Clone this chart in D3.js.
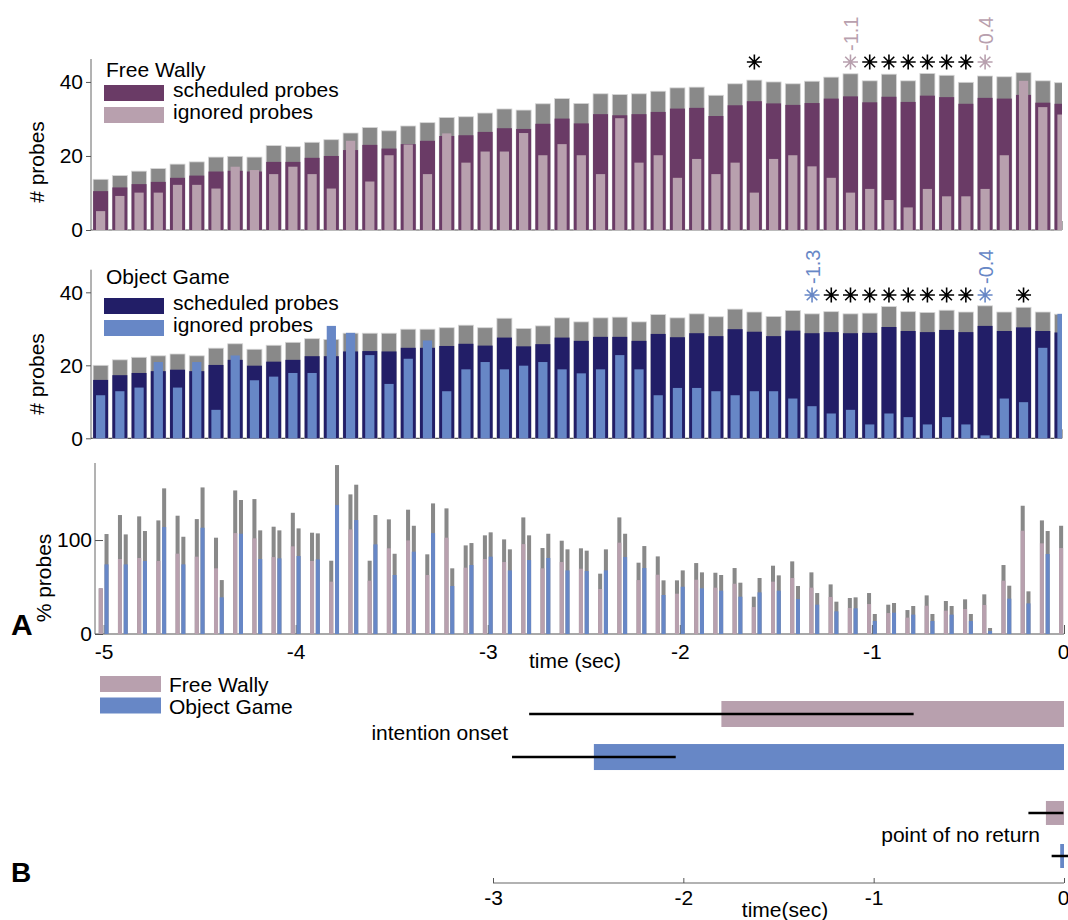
<!DOCTYPE html>
<html>
<head>
<meta charset="utf-8">
<script src="https://cdn.jsdelivr.net/npm/d3@7"></script>
<style>
  body { margin: 0; background: #fff; }
  svg { display: block; }
  text { font-family: "Liberation Sans", Arial, Helvetica, sans-serif; fill: #000; }
</style>
</head>
<body>
<svg id="fig" width="1068" height="920"></svg>
<script>
// ---- time bins (100 ms, aligned to movement at 0) ----
const binTimes = d3.range(51).map(i => Math.round((-5 + 0.1 * i) * 10) / 10);

// ---- Free Wally: probe counts per bin ----
const fwTotal = [13.7, 14.7, 15.9, 16.6, 17.8, 18.4, 19.7, 19.9, 19.7, 22.8, 22.5, 23.7, 24.4, 26.2, 27.7, 26.8, 28.1, 29.0, 30.4, 30.6,
  31.6, 32.7, 32.4, 34.1, 35.5, 34.2, 36.8, 36.6, 36.8, 37.5, 38.4, 38.6, 36.4, 39.5, 40.5, 40.0, 39.5, 40.2, 41.3, 42.2,
  40.3, 42.1, 40.3, 42.3, 41.8, 39.9, 41.6, 41.4, 42.5, 40.3, 39.8];
const fwScheduled = [10.5, 11.5, 12.4, 13.0, 14.1, 14.7, 15.8, 16.0, 15.8, 18.4, 18.4, 19.5, 20.0, 21.6, 23.0, 22.0, 23.2, 24.1, 25.4, 25.6,
  26.5, 27.5, 27.3, 28.7, 30.1, 28.8, 31.3, 31.0, 31.3, 31.9, 32.8, 33.0, 30.8, 33.7, 34.8, 34.2, 33.8, 34.3, 35.5, 36.1,
  34.5, 36.0, 34.6, 36.3, 35.9, 34.1, 35.7, 35.5, 36.5, 34.4, 34.1];
const fwIgnored = [5.1, 9.2, 10.1, 10.1, 12.2, 12.2, 11.2, 17.1, 16.2, 15.1, 17.1, 15.1, 11.2, 24.1, 13.1, 20.2, 23.1, 15.1, 26.1, 18.2,
  21.2, 21.2, 26.2, 20.2, 23.2, 20.2, 15.1, 30.2, 18.2, 20.2, 14.1, 19.2, 15.1, 18.2, 10.1, 19.2, 20.2, 17.2, 14.1, 10.1,
  11.1, 8.1, 6.1, 11.1, 9.1, 9.1, 11.1, 20.2, 40.3, 33.2, 31.2];

// ---- Object Game: probe counts per bin ----
const ogTotal = [20.0, 21.5, 22.2, 22.6, 23.1, 22.6, 24.7, 25.9, 24.4, 25.5, 26.3, 27.3, 27.1, 28.8, 28.8, 28.8, 29.9, 29.9, 30.3, 31.0,
  30.3, 32.9, 30.1, 30.8, 33.0, 31.9, 33.0, 33.2, 31.9, 33.9, 33.0, 34.1, 33.3, 35.4, 34.6, 33.4, 35.0, 34.1, 34.7, 34.1,
  34.3, 36.1, 34.7, 34.5, 35.1, 34.6, 36.3, 34.6, 35.9, 34.6, 34.0];
const ogScheduled = [16.0, 17.3, 17.9, 18.4, 18.8, 18.4, 20.1, 21.5, 19.9, 21.0, 21.5, 22.5, 22.5, 23.8, 23.9, 23.8, 24.8, 24.8, 25.3, 25.9,
  25.4, 27.6, 25.2, 25.8, 27.6, 26.7, 27.8, 27.8, 26.7, 28.6, 27.7, 28.8, 28.0, 29.9, 29.2, 28.0, 29.5, 28.8, 29.1, 28.8,
  28.9, 30.5, 29.4, 29.1, 29.7, 29.1, 30.8, 29.4, 30.4, 29.4, 29.0];
const ogIgnored = [11.8, 12.9, 13.9, 20.9, 13.9, 20.9, 7.8, 22.7, 15.9, 16.9, 17.9, 17.9, 30.8, 28.9, 22.8, 14.9, 21.8, 26.8, 12.9, 18.9,
  20.9, 18.9, 19.9, 20.9, 18.9, 17.8, 18.9, 22.8, 18.9, 11.8, 13.8, 13.8, 12.9, 11.8, 12.9, 12.9, 10.9, 8.8, 6.8, 7.8,
  3.8, 6.8, 5.8, 3.8, 5.8, 3.8, 0.8, 10.9, 9.9, 24.8, 34.1];

// ---- ignored / scheduled (%) with upper band ----
const fwPct = [48.6, 79.8, 80.9, 77.7, 85.5, 82.3, 69.9, 107.4, 101.8, 81.9, 93.3, 77.7, 55.7, 111.3, 56.7, 91.2, 99.6, 62.8, 102.5, 70.6,
  79.8, 76.6, 95.7, 69.9, 76.6, 69.5, 47.9, 97.2, 57.4, 63.1, 42.9, 57.8, 49.3, 53.5, 28.7, 55.7, 59.6, 49.3, 39.4, 27.7,
  31.9, 22.3, 17.4, 30.1, 24.8, 26.6, 30.9, 56.7, 109.9, 96.5, 91.5];
const fwPctHigh = [48.6, 126.6, 125.2, 120.9, 125.9, 122.3, 102.5, 152.8, 143.6, 114.2, 129.0, 107.8, 78.0, 148.6, 78.0, 122.0, 132.3, 84.8, 133.7, 94.3,
  105.0, 100.7, 124.1, 91.5, 99.3, 91.2, 64.2, 124.1, 75.9, 82.6, 57.1, 75.5, 65.2, 70.2, 39.7, 72.7, 77.3, 65.6, 52.8, 38.3,
  43.6, 31.2, 25.5, 41.1, 35.1, 36.9, 42.2, 73.4, 136.5, 120.9, 115.2];
const ogPct = [74.1, 74.1, 77.7, 113.8, 74.1, 113.1, 39.0, 106.7, 79.8, 80.5, 83.0, 79.4, 137.2, 121.3, 95.4, 62.8, 87.6, 107.4, 51.1, 73.4,
  82.3, 67.7, 78.7, 80.9, 67.7, 67.0, 67.7, 81.9, 70.2, 41.5, 50.3, 48.6, 46.1, 39.7, 44.3, 46.1, 37.2, 31.2, 24.1, 27.3,
  13.8, 22.7, 20.6, 13.8, 20.6, 13.8, 3.2, 37.6, 32.6, 85.1, null];
const ogPctHigh = [106.4, 106.0, 109.6, 155.0, 103.5, 156.0, 57.4, 142.6, 110.3, 110.3, 112.4, 107.1, 179.8, 158.9, 126.6, 85.4, 115.2, 139.0, 69.9, 96.8,
  108.2, 90.1, 105.0, 106.7, 90.1, 88.7, 90.1, 106.7, 93.6, 57.1, 67.7, 65.6, 62.8, 54.6, 59.6, 62.4, 51.1, 43.6, 34.4, 39.0,
  21.3, 33.0, 29.8, 21.3, 29.8, 21.3, 6.4, 51.4, 45.4, 109.6, null];

// ---- significance markers ----
const fwSigTimes = [-1.6, -1.0, -0.9, -0.8, -0.7, -0.6, -0.5];
const fwEdgeTimes = [-1.1, -0.4];
const fwEdgeLabels = ["-1.1", "-0.4"];
const ogSigTimes = [-1.2, -1.1, -1.0, -0.9, -0.8, -0.7, -0.6, -0.5, -0.2];
const ogEdgeTimes = [-1.3, -0.4];
const ogEdgeLabels = ["-1.3", "-0.4"];

// ---- panel B: onset estimates (mean, error) ----
const bConditions = ["Free Wally", "Object Game"];
const onsetMean = [-1.80, -2.47];
const onsetErr = [1.01, 0.43];
const ponrMean = [-0.095, -0.02];
const ponrErr = [0.092, 0.045];

const countTicks = [0, 20, 40];
const pctTicks = [0, 100];
const timeTicks = [-5, -4, -3, -2, -1, 0];
const bTicks = [-3, -2, -1, 0];

// ---- colours ----
const COL = {
  gray: "#898989",
  fwDark: "#6a3b66", fwLight: "#b8a0ae",
  ogDark: "#221e67", ogLight: "#6787c6",
  axis: "#666"
};
const FS = 21;
const plainNum = d => String(d);   // ASCII hyphen for negatives

const svg = d3.select("#fig");
const defs = svg.append("defs");

function styleAxis(g) {
  g.selectAll(".domain").remove();
  g.selectAll(".tick line").attr("stroke", "#555").attr("stroke-width", 1);
  g.selectAll(".tick text").attr("font-size", FS).attr("fill", "#000")
    .attr("font-family", '"Liberation Sans", Arial, sans-serif');
}

// keep the "0" label at the right edge inside the canvas
function pullZeroLabel(g) {
  g.selectAll(".tick").filter(d => d === 0).select("text")
    .attr("text-anchor", "end").attr("dx", 5);
}

function asterisk(g, cx, cy, r, color) {
  const d = [0, 45, 90, 135].map(a => {
    const rad = a * Math.PI / 180, dx = r * Math.cos(rad), dy = r * Math.sin(rad);
    return `M${cx - dx},${cy - dy}L${cx + dx},${cy + dy}`;
  }).join("");
  g.append("path").attr("d", d).attr("stroke", color).attr("stroke-width", 1.6).attr("fill", "none");
}

// ---- count panels (top two) ----
const xCount = d3.scaleLinear().domain([-5.05, 0]).range([91, 1062]);

function countPanel(cfg) {
  const y = d3.scaleLinear().domain([0, 46.2]).range([cfg.y0, cfg.yTop]);
  const g = svg.append("g");
  const clipId = "clip-" + cfg.id;
  defs.append("clipPath").attr("id", clipId).append("rect")
    .attr("x", xCount.range()[0]).attr("y", 0)
    .attr("width", xCount.range()[1] - xCount.range()[0]).attr("height", cfg.y0 + 1);

  // axis lines
  g.append("line").attr("x1", xCount.range()[0]).attr("x2", xCount.range()[0])
    .attr("y1", y(0)).attr("y2", y(46.2)).attr("stroke", COL.axis).attr("stroke-width", 1);
  g.append("line").attr("x1", xCount.range()[0]).attr("x2", xCount.range()[1])
    .attr("y1", y(0)).attr("y2", y(0)).attr("stroke", "#555").attr("stroke-width", 1.2);
  // inward time ticks (behind the bars)
  g.append("g").selectAll("line").data(timeTicks).join("line")
    .attr("x1", d => xCount(d)).attr("x2", d => xCount(d))
    .attr("y1", y(0)).attr("y2", y(0) - 9).attr("stroke", "#555");

  const ya = g.append("g").attr("transform", `translate(${xCount.range()[0]},0)`)
    .call(d3.axisLeft(y).tickValues(countTicks).tickSize(5).tickPadding(3));
  styleAxis(ya);

  const bars = g.append("g").attr("clip-path", `url(#${clipId})`);
  const wide = xCount(0.039) - xCount(0);
  const thin = xCount(0.024) - xCount(0);
  const idx = d3.range(binTimes.length);
  bars.selectAll(".tot").data(idx).join("rect")
    .attr("x", i => xCount(binTimes[i]) - wide).attr("width", 2 * wide)
    .attr("y", i => y(cfg.total[i])).attr("height", i => y(0) - y(cfg.total[i]))
    .attr("fill", COL.gray).attr("stroke", "#d6d6d6").attr("stroke-width", 0.8);
  bars.selectAll(".sch").data(idx).join("rect")
    .attr("x", i => xCount(binTimes[i]) - wide).attr("width", 2 * wide)
    .attr("y", i => y(cfg.sched[i])).attr("height", i => y(0) - y(cfg.sched[i]))
    .attr("fill", cfg.dark);
  bars.selectAll(".ign").data(idx).join("rect")
    .attr("x", i => xCount(binTimes[i]) - thin).attr("width", 2 * thin)
    .attr("y", i => y(cfg.ign[i])).attr("height", i => y(0) - y(cfg.ign[i]))
    .attr("fill", cfg.light);

  // y label
  g.append("text").attr("transform", `translate(44,${cfg.labelY}) rotate(-90)`)
    .attr("text-anchor", "middle").attr("font-size", FS).text("# probes");

  // legend
  const lg = g.append("g");
  lg.append("text").attr("x", 106).attr("y", cfg.legY[0]).attr("font-size", FS).text(cfg.title);
  lg.append("rect").attr("x", 104).attr("y", cfg.legY[1] - 11).attr("width", 60).attr("height", 16).attr("fill", cfg.dark);
  lg.append("text").attr("x", 173).attr("y", cfg.legY[1] + 1).attr("font-size", FS).text("scheduled probes");
  lg.append("rect").attr("x", 104).attr("y", cfg.legY[2] - 11).attr("width", 60).attr("height", 16).attr("fill", cfg.light);
  lg.append("text").attr("x", 173).attr("y", cfg.legY[2] + 1).attr("font-size", FS).text("ignored probes");

  // significance markers
  cfg.sig.forEach(t => asterisk(g, xCount(t), cfg.starY, 7.5, "#000"));
  cfg.edges.forEach((t, k) => {
    asterisk(g, xCount(t), cfg.starY, 7.5, cfg.edgeColor);
    g.append("text")
      .attr("transform", `translate(${xCount(t) + 7.5},${cfg.starY - 11}) rotate(-90)`)
      .attr("font-size", 20).style("fill", cfg.edgeColor)
      .text(cfg.edgeLabels[k]);
  });
}

countPanel({
  id: "fw", y0: 230, yTop: 59, total: fwTotal, sched: fwScheduled, ign: fwIgnored,
  dark: COL.fwDark, light: COL.fwLight, title: "Free Wally", labelY: 162,
  legY: [77, 96, 118], sig: fwSigTimes, edges: fwEdgeTimes, edgeLabels: fwEdgeLabels,
  edgeColor: COL.fwLight, starY: 62
});
countPanel({
  id: "og", y0: 438.3, yTop: 269.7, total: ogTotal, sched: ogScheduled, ign: ogIgnored,
  dark: COL.ogDark, light: COL.ogLight, title: "Object Game", labelY: 374,
  legY: [284, 309, 331], sig: ogSigTimes, edges: ogEdgeTimes, edgeLabels: ogEdgeLabels,
  edgeColor: COL.ogLight, starY: 295
});

// ---- percentage panel ----
(function () {
  const x = d3.scaleLinear().domain([-5.045, 0]).range([95, 1064]);
  const y = d3.scaleLinear().domain([0, 182]).range([634, 463]);
  const g = svg.append("g");
  defs.append("clipPath").attr("id", "clip-pct").append("rect")
    .attr("x", 95).attr("y", 0).attr("width", 1064 - 95).attr("height", 640);

  g.append("line").attr("x1", 95).attr("x2", 95).attr("y1", y(0)).attr("y2", y(182))
    .attr("stroke", COL.axis);
  g.append("line").attr("x1", 95).attr("x2", 1064).attr("y1", y(0)).attr("y2", y(0))
    .attr("stroke", "#555").attr("stroke-width", 1.2);

  const xa = g.append("g").attr("transform", `translate(0,${y(0)})`)
    .call(d3.axisBottom(x).tickValues(timeTicks).tickSizeInner(-9).tickSizeOuter(0).tickPadding(10)
      .tickFormat(plainNum));
  styleAxis(xa);
  pullZeroLabel(xa);
  const ya = g.append("g").attr("transform", "translate(95,0)")
    .call(d3.axisLeft(y).tickValues(pctTicks).tickSizeInner(-8).tickSizeOuter(0).tickPadding(3));
  styleAxis(ya);

  const bars = g.append("g").attr("clip-path", "url(#clip-pct)");
  const off = 0.015, hw = 0.0105;
  const w = x(hw) - x(0);
  const series = [
    { v: fwPct, hi: fwPctHigh, dx: -off, color: COL.fwLight },
    { v: ogPct, hi: ogPctHigh, dx: off, color: COL.ogLight }
  ];
  series.forEach(s => {
    const idx = d3.range(binTimes.length).filter(i => s.v[i] != null);
    bars.append("g").selectAll("rect").data(idx).join("rect")
      .attr("x", i => x(binTimes[i] + s.dx) - w).attr("width", 2 * w)
      .attr("y", i => y(s.hi[i])).attr("height", i => y(0) - y(s.hi[i]))
      .attr("fill", COL.gray);
    bars.append("g").selectAll("rect").data(idx).join("rect")
      .attr("x", i => x(binTimes[i] + s.dx) - w).attr("width", 2 * w)
      .attr("y", i => y(s.v[i])).attr("height", i => y(0) - y(s.v[i]))
      .attr("fill", s.color);
  });

  g.append("text").attr("transform", "translate(51,578) rotate(-90)")
    .attr("text-anchor", "middle").attr("font-size", FS).text("% probes");
  g.append("text").attr("x", 575).attr("y", 668).attr("text-anchor", "middle")
    .attr("font-size", FS).text("time (sec)");
  g.append("text").attr("x", 11).attr("y", 635).attr("font-size", 30)
    .attr("font-weight", "bold").text("A");
})();

// ---- panel B ----
(function () {
  const x = d3.scaleLinear().domain([-3, 0]).range([493, 1064]);
  const rowY = d3.scaleLinear().domain([0, 3.3]).range([714, 856]);
  const g = svg.append("g");
  const cols = [COL.fwLight, COL.ogLight];
  const rows = [
    { r: 0, m: onsetMean[0], e: onsetErr[0], c: cols[0], h: 26 },
    { r: 1, m: onsetMean[1], e: onsetErr[1], c: cols[1], h: 26 },
    { r: 2.3, m: ponrMean[0], e: ponrErr[0], c: cols[0], h: 24 },
    { r: 3.3, m: ponrMean[1], e: ponrErr[1], c: cols[1], h: 24 }
  ];

  g.append("line").attr("x1", 493).attr("x2", 1064).attr("y1", 883).attr("y2", 883)
    .attr("stroke", COL.axis).attr("stroke-width", 1.2);
  const xa = g.append("g").attr("transform", "translate(0,883)")
    .call(d3.axisBottom(x).tickValues(bTicks).tickSizeInner(-5).tickSizeOuter(0).tickPadding(7)
      .tickFormat(plainNum));
  styleAxis(xa);
  pullZeroLabel(xa);

  rows.forEach(d => {
    g.append("rect").attr("x", x(d.m)).attr("width", x(0) - x(d.m))
      .attr("y", rowY(d.r) - d.h / 2).attr("height", d.h).attr("fill", d.c);
    g.append("line").attr("x1", x(d.m - d.e)).attr("x2", Math.min(x(d.m + d.e), 1068))
      .attr("y1", rowY(d.r)).attr("y2", rowY(d.r)).attr("stroke", "#000").attr("stroke-width", 2.5);
  });

  g.append("text").attr("x", 508).attr("y", 740).attr("text-anchor", "end")
    .attr("font-size", FS).text("intention onset");
  g.append("text").attr("x", 1040).attr("y", 842).attr("text-anchor", "end")
    .attr("font-size", FS).text("point of no return");
  g.append("text").attr("x", 785).attr("y", 917).attr("text-anchor", "middle")
    .attr("font-size", FS).text("time(sec)");

  // legend
  bConditions.forEach((name, k) => {
    g.append("rect").attr("x", 100).attr("y", 676 + k * 21.5).attr("width", 61).attr("height", 16)
      .attr("fill", cols[k]);
    g.append("text").attr("x", 169).attr("y", 692 + k * 21.5).attr("font-size", FS).text(name);
  });
  g.append("text").attr("x", 11).attr("y", 882).attr("font-size", 28)
    .attr("font-weight", "bold").text("B");
})();
</script>
</body>
</html>
